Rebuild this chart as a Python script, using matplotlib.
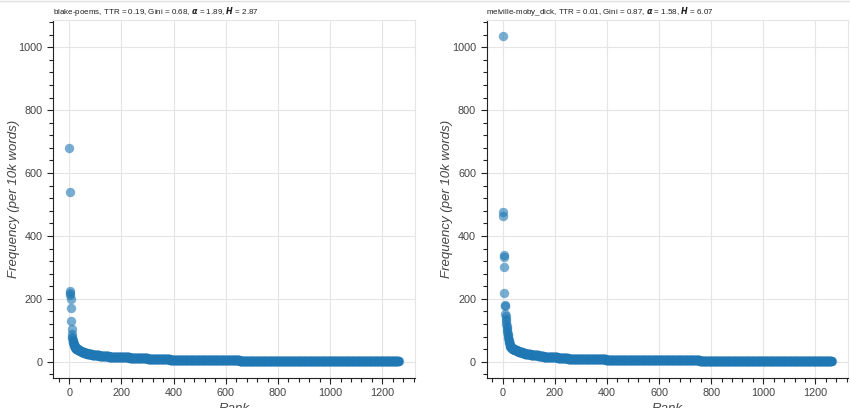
import numpy as np
import matplotlib
matplotlib.use("Agg")
import matplotlib.pyplot as plt
from matplotlib.ticker import MultipleLocator
from matplotlib.lines import Line2D

plt.rcParams['font.family'] = ['Liberation Sans', 'DejaVu Sans']

# panel titles
titles = [
    r"blake-poems, TTR = 0.19, Gini = 0.68, $\mathbfit{\alpha}$ = 1.89, $\mathbfit{H}$ = 2.87",
    r"melville-moby_dick, TTR = 0.01, Gini = 0.87, $\mathbfit{\alpha}$ = 1.58, $\mathbfit{H}$ = 6.07",
]

# frequency per 10k words, top ranks read one by one
blake_head = [680, 540, 226, 219, 212, 200, 172, 130, 103, 88,
              80, 74, 70, 66, 63, 60, 57, 55, 53, 51,
              49, 47, 46, 45, 44, 43, 42, 41, 40.5, 40]
# rest of the ranks as (frequency, number of words with it)
blake_tail = [(39.2, 3), (37.7, 3), (36.2, 3), (34.7, 4), (33.2, 4), (31.7, 3),
              (30.2, 5), (28.7, 6), (27.1, 7), (25.6, 8), (24.1, 10), (22.6, 14),
              (21.1, 14), (19.6, 17), (18.1, 20), (16.6, 23), (15.1, 26),
              (13.6, 30), (12.1, 35), (10.6, 35),
              (9.0, 40), (7.5, 45), (6.0, 44),
              (4.5, 223), (3.0, 610)]

melville_head = [1035, 475, 462, 338, 332, 300, 220, 182, 178, 152,
                 144, 136, 128, 121, 114, 107, 101, 95, 89, 84,
                 79, 74, 70, 66, 62, 59, 56, 53, 50, 48]
melville_tail = [(46, 3), (44, 3), (42, 4), (40, 4), (38, 5), (36, 5), (34, 6),
                 (32, 7), (30, 8), (28, 9),
                 (26, 10), (24, 12), (22, 14), (20, 16), (18, 20), (16, 24), (14, 30),
                 (12, 40), (10, 55), (9, 40), (8, 50), (7, 60), (6, 75),
                 (5, 95), (4, 130), (3, 180), (2, 200), (1.5, 127)]


def build(head, tail):
    vals = list(head)
    for v, n in tail:
        vals += [v] * n
    vals = np.array(vals, dtype=float)
    ranks = np.arange(1, len(vals) + 1)
    return ranks, vals


series = [build(blake_head, blake_tail), build(melville_head, melville_tail)]

fig = plt.figure(figsize=(8.5, 4.08), dpi=100)
positions = [[53 / 850, 30 / 408, 362 / 850, 358 / 408],
             [486.5 / 850, 30 / 408, 361.5 / 850, 358 / 408]]

axis_col = '#444444'
for pos, (ranks, vals), title in zip(positions, series, titles):
    ax = fig.add_axes(pos)
    ax.scatter(ranks, vals, s=46, color='#1f77b4', alpha=0.6, linewidths=0, zorder=3)
    ax.set_xlim(-62, 1325)
    ax.set_ylim(-51.7, 1086.7)
    ax.xaxis.set_major_locator(MultipleLocator(200))
    ax.xaxis.set_minor_locator(MultipleLocator(40))
    ax.yaxis.set_major_locator(MultipleLocator(200))
    ax.yaxis.set_minor_locator(MultipleLocator(40))
    ax.grid(True, which='major', color='#e5e5e5', linewidth=0.8, zorder=0)
    for side in ['top', 'right']:
        ax.spines[side].set_color('#e5e5e5')
        ax.spines[side].set_linewidth(0.8)
    for side in ['left', 'bottom']:
        ax.spines[side].set_color('#222222')
        ax.spines[side].set_linewidth(0.8)
    ax.tick_params(which='major', length=4.5, width=0.8, color='#222222',
                   labelsize=7.8, labelcolor=axis_col, pad=3)
    ax.tick_params(which='minor', length=3, width=0.8, color='#222222')
    ax.set_xlabel('Rank', fontsize=9.5, style='italic', color=axis_col, labelpad=3)
    ax.set_ylabel('Frequency (per 10k words)', fontsize=9.5, style='italic',
                  color=axis_col, labelpad=-1)
    ax.set_title(title, loc='left', fontsize=5.8, color='#222222', pad=4)

# light border of the surrounding page
fig.add_artist(Line2D([0, 1], [0.997, 0.997], color='#e0e0e0', linewidth=1))

fig.savefig('out.png', dpi=100)
